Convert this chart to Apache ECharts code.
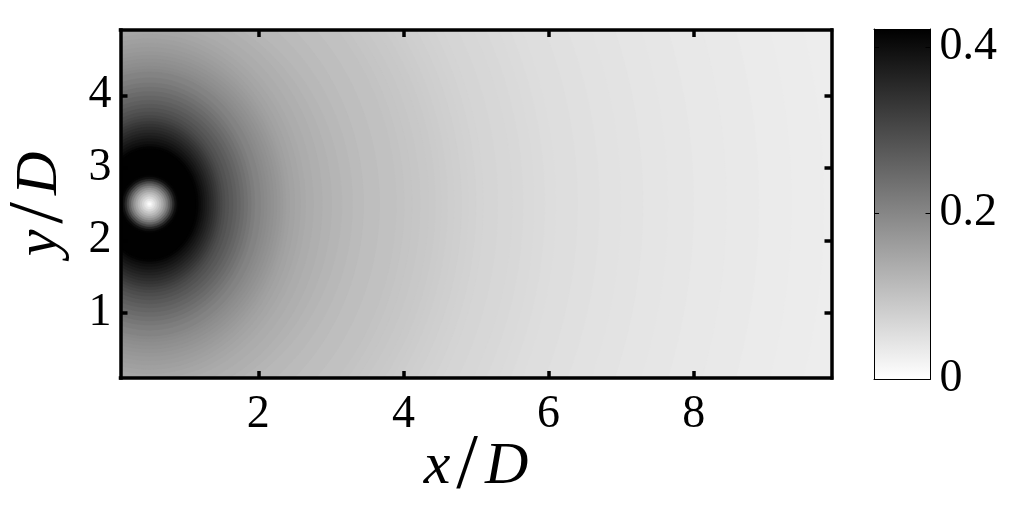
<!DOCTYPE html>
<html><head><meta charset="utf-8">
<script src="https://cdn.jsdelivr.net/npm/echarts@6/dist/echarts.min.js"></script>
<style>html,body{margin:0;padding:0;background:#fff}#c{width:1017px;height:523px}</style>
</head><body><div id="c"></div><script>
// ---- data ----
// source (centre of the white core) in x/D, y/D
const srcX = 0.5, srcY = 2.5;
// nested contour levels around the source: value, rightward half-extent (x/D), vertical half-extent (y/D)
const levelV = [0.028, 0.030, 0.0325, 0.035, 0.0375, 0.040, 0.0425, 0.045, 0.0475, 0.050, 0.0525, 0.055, 0.0575, 0.060, 0.0625, 0.065, 0.0675, 0.070, 0.0725, 0.075, 0.0775, 0.080, 0.0825, 0.085, 0.0875, 0.090, 0.0925, 0.095, 0.0975, 0.100,
  0.105, 0.110, 0.115, 0.120, 0.125, 0.130, 0.135, 0.140, 0.145, 0.150, 0.155, 0.160, 0.165, 0.170, 0.175, 0.180, 0.185, 0.190, 0.195, 0.200,
  0.21, 0.22, 0.23, 0.24, 0.25, 0.26, 0.27, 0.28, 0.29, 0.30, 0.31, 0.32, 0.33, 0.34, 0.35, 0.36, 0.37, 0.38, 0.39, 0.40, 0.41, 0.42];
const levelA = [20, 9.3, 8.85, 8.4, 7.95, 7.5, 7.15, 6.8, 6.5, 6.2, 5.9, 5.6, 5.45, 5.3, 5.15, 5.0, 4.8, 4.6, 4.5, 4.4, 4.3, 4.2, 4.11, 4.02, 3.94, 3.85, 3.73, 3.62, 3.51, 3.4,
  3.17, 2.95, 2.8, 2.65, 2.51, 2.38, 2.26, 2.15, 2.08, 2.0, 1.93, 1.88, 1.84, 1.80, 1.755, 1.71, 1.665, 1.62, 1.575, 1.53,
  1.45, 1.40, 1.35, 1.30, 1.25, 1.20, 1.15, 1.09, 1.04, 1.00, 0.97, 0.94, 0.91, 0.88, 0.85, 0.82, 0.79, 0.76, 0.73, 0.70, 0.67, 0.64];
const levelB = [20, 9.8, 9.3, 8.8, 8.35, 7.9, 7.55, 7.2, 6.85, 6.5, 6.25, 6.0, 5.85, 5.7, 5.5, 5.3, 5.15, 5.0, 4.87, 4.75, 4.62, 4.5, 4.4, 4.3, 4.2, 4.1, 4.0, 3.9, 3.8, 3.7,
  3.47, 3.25, 3.05, 2.85, 2.77, 2.70, 2.59, 2.48, 2.41, 2.34, 2.28, 2.22, 2.16, 2.10, 2.05, 2.00, 1.95, 1.90, 1.86, 1.82,
  1.74, 1.67, 1.61, 1.55, 1.49, 1.43, 1.375, 1.32, 1.27, 1.22, 1.18, 1.14, 1.10, 1.06, 1.02, 0.98, 0.94, 0.90, 0.86, 0.82, 0.79, 0.76];
// radial profile of the bright core: radius (x/D) and value
const coreR = [0.40, 0.37, 0.34, 0.31, 0.28, 0.25, 0.22, 0.19, 0.16, 0.13, 0.10, 0.07, 0.04, 0.02, 0.01];
const coreV = [0.42, 0.41, 0.38, 0.33, 0.28, 0.235, 0.195, 0.16, 0.13, 0.105, 0.08, 0.055, 0.03, 0.015, 0.006];
// axes
const xRange = [0.1, 9.9];
const yRange = [0.1, 4.9];
const cRange = [0, 0.4217];
const xTicks = [2, 4, 6, 8];
const yTicks = [1, 2, 3, 4];
const cTicks = [0, 0.2, 0.4];
const cInnerTicks = [0.2, 0.4];

// ---- chart ----
const FONT = 'Liberation Serif';
const TICK_FS = 46, NAME_FS = 60, SLASH_FS = 78;

function bandData(vals, ax, bx, last) {
  return vals.map((v, i) => {
    const next = i + 1 < vals.length ? vals[i + 1] : last;
    return [ax[i], bx[i], v, Math.min((v + next) / 2, cRange[1])];
  });
}
const fieldData = bandData(levelV, levelA, levelB, levelV[levelV.length - 1]);
const coreData = bandData(coreV, coreR, coreR, 0);

function ellipseItem(params, api) {
  const a = api.value(0), b = api.value(1);
  const pts = [];
  const N = 144;
  for (let k = 0; k < N; k++) {
    const t = 2 * Math.PI * k / N;
    pts.push(api.coord([srcX + a * Math.cos(t), srcY + b * Math.sin(t)]));
  }
  const col = api.visual('color');
  return { type: 'polygon', shape: { points: pts }, style: { fill: col, stroke: col, lineWidth: 0.6 } };
}

const frameLine = { show: true, onZero: false, lineStyle: { color: '#000', width: 3.5, cap: 'square' } };
const mainTick = (vals) => ({ show: true, inside: true, length: 7, customValues: vals, lineStyle: { color: '#000', width: 3.5 } });
const labelStyle = { fontFamily: FONT, fontSize: TICK_FS, color: '#000' };
const cbLine = { show: true, onZero: false, lineStyle: { color: '#000', width: 1 } };
const cbTick = { show: true, inside: true, length: 5, customValues: cInnerTicks, lineStyle: { color: '#000', width: 1 } };
const nameStyle = {
  fontFamily: FONT, fontSize: NAME_FS, color: '#000',
  rich: {
    i: { fontFamily: FONT, fontSize: NAME_FS, fontStyle: 'italic', color: '#000' },
    s: { fontFamily: FONT, fontSize: SLASH_FS, color: '#000', padding: [0, 7, 0, 6] }
  }
};

const chart = echarts.init(document.getElementById('c'), null, { renderer: 'canvas' });
chart.setOption({
  animation: false,
  backgroundColor: '#fff',
  grid: [
    { left: 120.5, top: 30, width: 711, height: 348, containLabel: false, outerBoundsMode: 'none' },
    { left: 874, top: 29, width: 56.5, height: 350, containLabel: false, outerBoundsMode: 'none' }
  ],
  visualMap: {
    type: 'continuous', show: false, min: cRange[0], max: cRange[1], dimension: 3,
    seriesIndex: [0, 1], inRange: { color: ['#ffffff', '#000000'] }
  },
  xAxis: [
    { gridIndex: 0, type: 'value', min: xRange[0], max: xRange[1], position: 'bottom', z: 10,
      axisLine: frameLine, axisTick: mainTick(xTicks), splitLine: { show: false },
      axisLabel: Object.assign({ customValues: xTicks, margin: 14 }, labelStyle),
      name: '{i|x}{s|/}{i|D}', nameLocation: 'middle', nameGap: 50, nameMoveOverlap: false, nameTextStyle: nameStyle },
    { gridIndex: 0, type: 'value', min: xRange[0], max: xRange[1], position: 'top', z: 10,
      axisLine: frameLine, axisTick: mainTick(xTicks), splitLine: { show: false },
      axisLabel: { show: false, customValues: xTicks } },
    { gridIndex: 1, type: 'category', data: ['c'], position: 'bottom', z: 10,
      axisLine: cbLine, axisTick: { show: false }, axisLabel: { show: false } },
    { gridIndex: 1, type: 'category', data: ['c'], position: 'top', z: 10,
      axisLine: cbLine, axisTick: { show: false }, axisLabel: { show: false } }
  ],
  yAxis: [
    { gridIndex: 0, type: 'value', min: yRange[0], max: yRange[1], position: 'left', z: 10,
      axisLine: frameLine, axisTick: mainTick(yTicks), splitLine: { show: false },
      axisLabel: Object.assign({ customValues: yTicks, margin: 9 }, labelStyle),
      name: '{i|y}{s|/}{i|D}', nameLocation: 'middle', nameGap: 41, nameRotate: 90, nameMoveOverlap: false, nameTextStyle: nameStyle },
    { gridIndex: 0, type: 'value', min: yRange[0], max: yRange[1], position: 'right', z: 10,
      axisLine: frameLine, axisTick: mainTick(yTicks), splitLine: { show: false },
      axisLabel: { show: false, customValues: yTicks } },
    { gridIndex: 1, type: 'value', min: cRange[0], max: cRange[1], position: 'right', z: 10,
      axisLine: cbLine, axisTick: cbTick, splitLine: { show: false },
      axisLabel: Object.assign({ customValues: cTicks, margin: 9 }, labelStyle) },
    { gridIndex: 1, type: 'value', min: cRange[0], max: cRange[1], position: 'left', z: 10,
      axisLine: cbLine, axisTick: cbTick, splitLine: { show: false },
      axisLabel: { show: false, customValues: cTicks } }
  ],
  series: [
    { type: 'custom', name: 'field', xAxisIndex: 0, yAxisIndex: 0, clip: true,
      renderItem: ellipseItem, data: fieldData, encode: { x: 0, y: 1 } },
    { type: 'custom', name: 'core', xAxisIndex: 0, yAxisIndex: 0, clip: true,
      renderItem: ellipseItem, data: coreData, encode: { x: 0, y: 1 } },
    { type: 'bar', name: 'colorbar', xAxisIndex: 2, yAxisIndex: 2, barWidth: '100%',
      data: [cRange[1]],
      itemStyle: { color: new echarts.graphic.LinearGradient(0, 0, 0, 1,
        [{ offset: 0, color: '#000000' }, { offset: 1, color: '#ffffff' }]) } }
  ]
});
</script></body></html>
